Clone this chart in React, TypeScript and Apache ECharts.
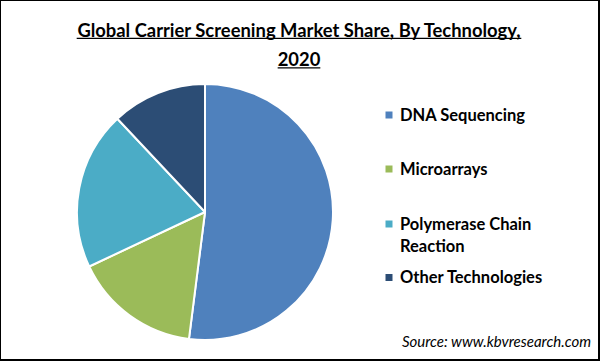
import React, { useEffect, useRef } from "react";
import * as echarts from "echarts";

const titleLines = ["Global Carrier Screening Market Share, By Technology,", "2020"];
const categories = ["DNA Sequencing", "Microarrays", "Polymerase Chain Reaction", "Other Technologies"];
const legendLabels = [["DNA Sequencing"], ["Microarrays"], ["Polymerase Chain", "Reaction"], ["Other Technologies"]];
const shares = [52, 16, 20, 12];
const colors = ["#4F81BD", "#9BBB59", "#4BACC6", "#2C4D75"];
const sourceText = "Source: www.kbvresearch.com";

const FONT = "Lato, 'Open Sans', sans-serif";

function measure(text: string, font: string): number {
  const c = document.createElement("canvas").getContext("2d");
  if (!c) return text.length * 9;
  c.font = font;
  return c.measureText(text).width;
}

export default function App() {
  const ref = useRef<HTMLDivElement>(null);
  useEffect(() => {
    if (!ref.current) return;
    const chart = echarts.init(ref.current, undefined, { renderer: "svg" });
    const titleSize = 18.4;
    const titleCx = 299;
    const titleBaselines = [36.4, 65.8];
    const graphics: any[] = [];
    titleLines.forEach((line, i) => {
      const w = measure(line, `bold ${titleSize}px Lato`);
      graphics.push({
        type: "text",
        x: titleCx,
        y: titleBaselines[i] - 0.36 * titleSize,
        style: {
          text: line,
          font: `bold ${titleSize}px ${FONT}`,
          fill: "#000",
          align: "center",
          verticalAlign: "middle",
        },
      });
      graphics.push({
        type: "line",
        shape: { x1: titleCx - w / 2, y1: titleBaselines[i] + 2, x2: titleCx + w / 2, y2: titleBaselines[i] + 2 },
        style: { stroke: "#000", lineWidth: 1.2 },
      });
    });
    const legendY = [115, 169, 224, 277.5];
    const legendSize = 16.5;
    legendLabels.forEach((lines, i) => {
      graphics.push({
        type: "rect",
        shape: { x: 385.5, y: legendY[i] - 3.5, width: 7, height: 7 },
        style: { fill: colors[i] },
      });
      lines.forEach((ln, j) => {
        const baseline = legendY[i] + 5.5 + j * 22;
        graphics.push({
          type: "text",
          x: 400,
          y: baseline - 0.36 * legendSize,
          style: {
            text: ln,
            font: `bold ${legendSize}px ${FONT}`,
            fill: "#000",
            align: "left",
            verticalAlign: "middle",
          },
        });
      });
    });
    const srcSize = 15;
    graphics.push({
      type: "text",
      x: 591,
      y: 346 - 0.36 * srcSize,
      style: {
        text: sourceText,
        font: `italic ${srcSize}px ${FONT}`,
        fill: "#000",
        align: "right",
        verticalAlign: "middle",
      },
    });

    chart.setOption({
      animation: false,
      backgroundColor: "#fff",
      graphic: graphics,
      series: [
        {
          type: "pie",
          center: [205, 212],
          radius: 128,
          startAngle: 90,
          clockwise: true,
          label: { show: false },
          labelLine: { show: false },
          silent: true,
          itemStyle: { borderColor: "#fff", borderWidth: 2 },
          data: categories.map((name, i) => ({ name, value: shares[i], itemStyle: { color: colors[i] } })),
        },
      ],
    });
    return () => chart.dispose();
  }, []);
  return (
    <div
      style={{
        position: "fixed",
        left: 0,
        top: 0,
        width: 600,
        height: 361,
        boxSizing: "border-box",
        borderLeft: "1px solid #000",
        borderTop: "1px solid #000",
        borderRight: "2px solid #000",
        borderBottom: "2px solid #000",
        background: "#fff",
        overflow: "hidden",
      }}
    >
      <div ref={ref} style={{ position: "absolute", left: -1, top: -1, width: 600, height: 361 }} />
    </div>
  );
}
